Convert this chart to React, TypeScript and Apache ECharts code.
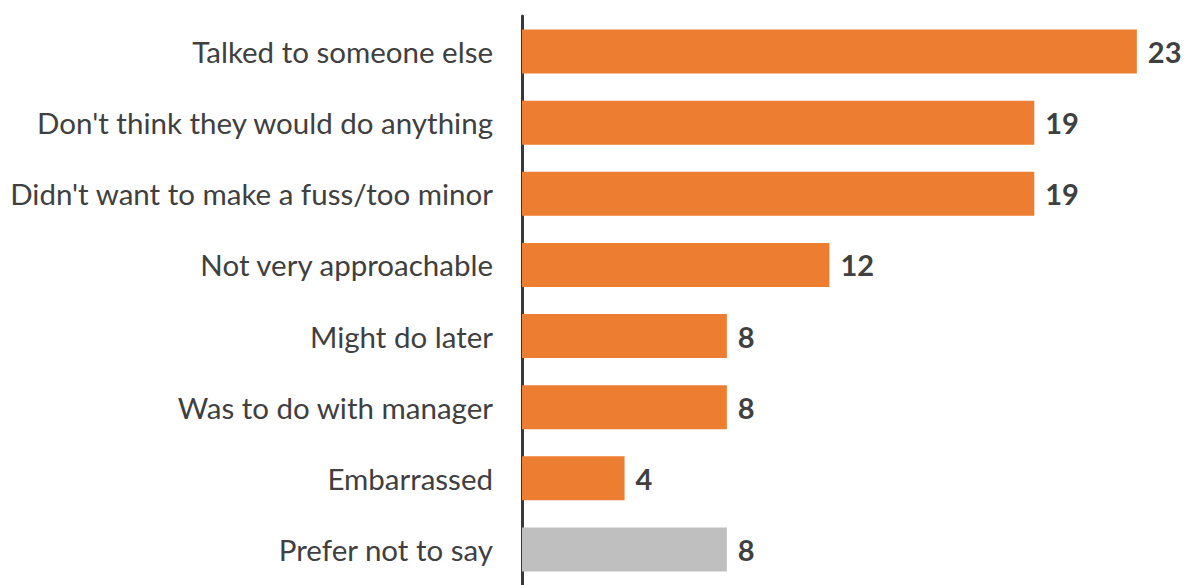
import React, { useEffect, useRef } from "react";
import * as echarts from "echarts";

const categories = [
  "Talked to someone else",
  "Don't think they would do anything",
  "Didn't want to make a fuss/too minor",
  "Not very approachable",
  "Might do later",
  "Was to do with manager",
  "Embarrassed",
  "Prefer not to say",
];
const values = [23.08, 19.23, 19.23, 11.54, 7.69, 7.69, 3.85, 7.69];
const barColors = ["#ED7D31", "#ED7D31", "#ED7D31", "#ED7D31", "#ED7D31", "#ED7D31", "#ED7D31", "#BFBFBF"];

export default function App() {
  const ref = useRef<HTMLDivElement>(null);
  useEffect(() => {
    document.body.style.margin = "0";
    const chart = echarts.init(ref.current!, null, { renderer: "svg" });
    chart.setOption({
      animation: false,
      backgroundColor: "#ffffff",
      grid: { left: 522, right: 0, top: 16, height: 573, containLabel: false },
      xAxis: {
        type: "value",
        min: 0,
        max: 25,
        show: false,
      },
      yAxis: {
        type: "category",
        data: categories,
        inverse: true,
        axisLine: { show: true, lineStyle: { color: "#383838", width: 3 } },
        axisTick: { show: false },
        axisLabel: {
          margin: 29,
          fontSize: 29.5,
          color: "#404040",
          fontFamily: "Lato",
        },
      },
      series: [
        {
          type: "bar",
          barWidth: 44,
          data: values.map((v, i) => ({ value: v, itemStyle: { color: barColors[i] } })),
          label: {
            show: true,
            position: "right",
            distance: 11,
            fontSize: 29,
            fontWeight: "bold",
            color: "#404040",
            fontFamily: "Lato",
            formatter: (p: any) => String(Math.round(p.value)),
          },
        },
      ],
    });
    return () => chart.dispose();
  }, []);
  return <div ref={ref} style={{ width: 1188, height: 585 }} />;
}
